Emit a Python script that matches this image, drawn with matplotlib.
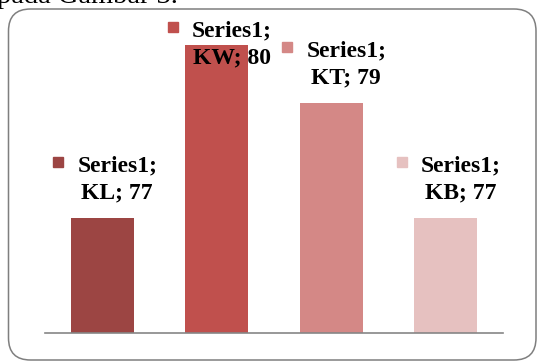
import matplotlib.pyplot as plt
from matplotlib.patches import FancyBboxPatch
from matplotlib.transforms import IdentityTransform, offset_copy

# chart data
categories = ["KL", "KW", "KT", "KB"]
values = [77, 80, 79, 77]
series_name = "Series1"
caption = "pada Gambar 3."

colors = ["#9C4543", "#C0504D", "#D48886", "#E6C1C0"]
# extra vertical shift (pixels) for labels that would fall off the chart
label_shift = [0, -37.5, 0, 0]

DPI = 100
fig = plt.figure(figsize=(5.37, 3.63), dpi=DPI)
W, H = 537, 363

# axes placed in pixel terms of the reference
ax = fig.add_axes([45 / W, (H - 333) / H, 458 / W, 288 / H])
x = list(range(len(categories)))
ax.bar(x, values, width=0.55, color=colors, zorder=2)
ax.set_xlim(-0.5, len(categories) - 0.5)
ax.set_ylim(75, 80)
for side in ["top", "left", "right"]:
    ax.spines[side].set_visible(False)
ax.spines["bottom"].set_color("#868686")
ax.spines["bottom"].set_linewidth(1.2)
ax.set_xticks([])
ax.set_yticks([])
ax.patch.set_alpha(0)

font = dict(family="Liberation Serif", weight="bold", size=17, color="black")
for i, (cat, val, col, shift) in enumerate(zip(categories, values, colors, label_shift)):
    line2 = offset_copy(ax.transData, fig, x=15, y=19.5 + shift, units="dots")
    line1 = offset_copy(ax.transData, fig, x=15, y=46.5 + shift, units="dots")
    mark = offset_copy(ax.transData, fig, x=-44, y=56 + shift, units="dots")
    ax.text(i, val, f"{series_name};", transform=line1, ha="center", va="baseline",
            zorder=5, clip_on=False, **font)
    ax.text(i, val, f"{cat}; {val}", transform=line2, ha="center", va="baseline",
            zorder=5, clip_on=False, **font)
    ax.plot(i, val, marker="s", markersize=7, color=col, transform=mark,
            clip_on=False, zorder=5)

# rounded chart border
border = FancyBboxPatch((8.5, H - 360), 527.5, 351,
                        boxstyle="round,pad=0,rounding_size=22",
                        facecolor="none", edgecolor="#7F7F7F", linewidth=1.1,
                        transform=IdentityTransform())
fig.add_artist(border)

# caption from the page above, mostly cut off
fig.text(178 / W, 1 - 3 / H, caption, ha="right", va="baseline",
         family="Liberation Serif", size=20.5, color="black")

fig.savefig("out.png", dpi=DPI)
